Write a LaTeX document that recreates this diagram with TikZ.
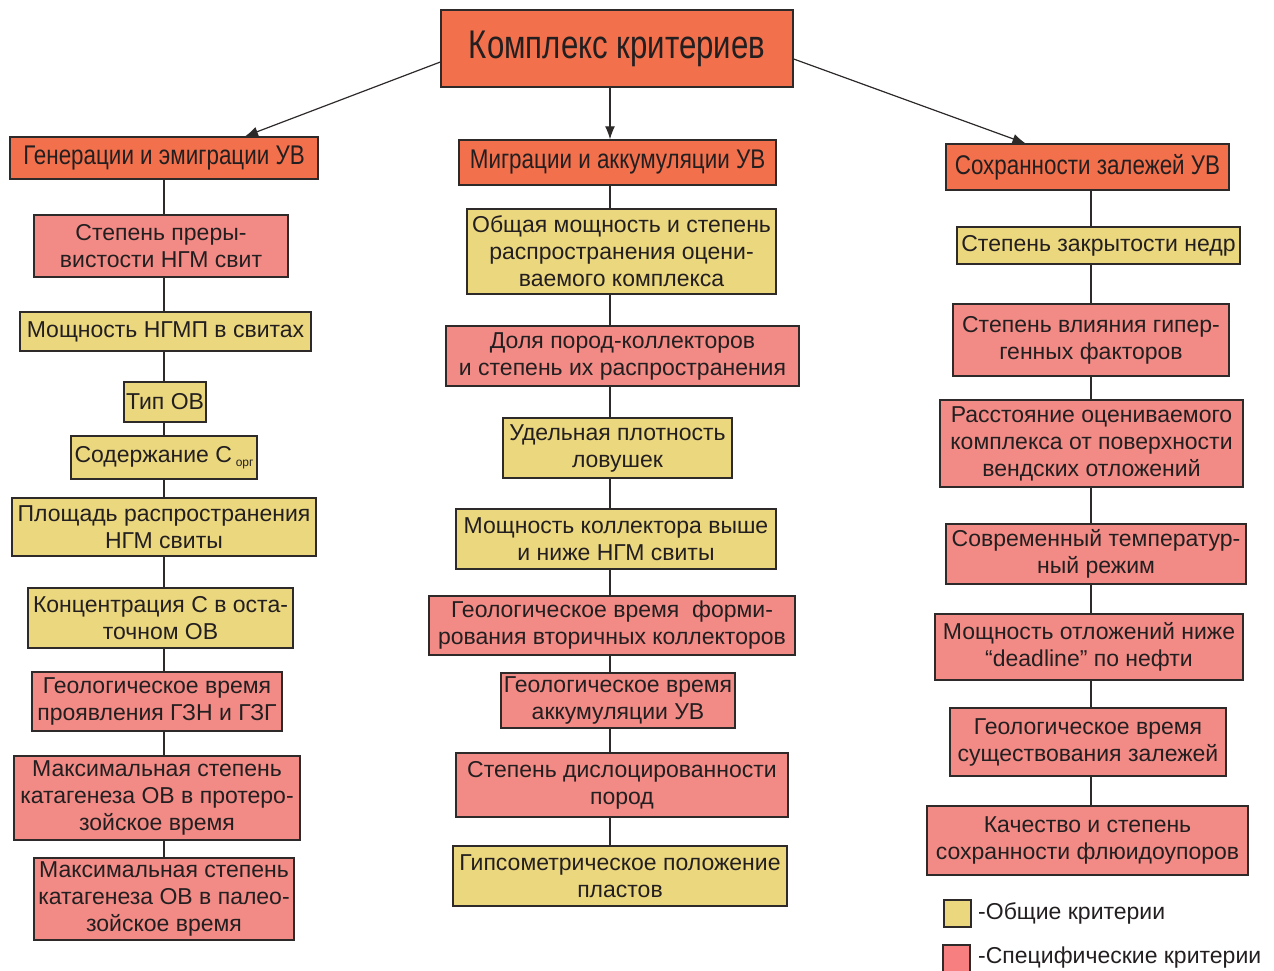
\documentclass[tikz,border=0pt]{standalone}
\usepackage{fontspec}
\setmainfont{Liberation Sans}
\newfontfamily\condfont{Liberation Sans}[FakeStretch=0.78]
\newfontfamily\hdrfont{Liberation Sans}[FakeStretch=0.83]
\usetikzlibrary{arrows.meta}
\definecolor{hdr}{HTML}{F2704C}
\definecolor{yel}{HTML}{EBD77E}
\definecolor{pnk}{HTML}{F28B86}
\definecolor{lpnk}{HTML}{F77F7F}
\definecolor{edge}{HTML}{2E2A2A}
\definecolor{txt}{HTML}{231F20}
\newcommand\bx[7]{\node[#1,minimum width=#5pt-#3pt,minimum height=#6pt-#4pt] (#2) at ({(#3+#5)/2},{(#4+#6)/2}) {#7};}
\begin{document}
\begin{tikzpicture}[x=1pt,y=-1pt,
  box/.style={draw=edge,line width=1.3pt,inner sep=0pt,align=center,text=txt,font=\fontsize{23}{27}\selectfont},
  ybox/.style={box,fill=yel},
  pbox/.style={box,fill=pnk},
  hbox/.style={box,fill=hdr,font=\hdrfont\fontsize{27}{30}\selectfont},
  tbox/.style={box,fill=hdr,font=\condfont\fontsize{40}{44}\selectfont},
  conn/.style={draw=edge,line width=1.2pt},
  arr/.style={conn,-{Latex[length=13pt,width=10pt]}}]
\useasboundingbox (0,0) rectangle (1274,971);
\coordinate (colL) at (164,0);
\coordinate (colM) at (610,0);
\coordinate (colR) at (1091,0);
% top
\bx{tbox}{top}{441}{10}{793}{87}{Комплекс критериев}
\bx{hbox}{gen}{10}{137}{318}{179}{Генерации и эмиграции УВ}
\bx{hbox}{mig}{459}{140}{776}{185}{Миграции и аккумуляции УВ}
\bx{hbox}{soh}{946}{144}{1229}{190}{Сохранности залежей УВ}
% left column
\bx{pbox}{l1}{34}{215}{288}{277}{Степень преры-\\вистости НГМ свит}
\bx{ybox}{l2}{20}{312}{311}{351}{Мощность НГМП в свитах}
\bx{ybox}{l3}{124}{382}{206}{422}{Тип ОВ}
\bx{ybox}{l4}{71}{436}{257}{479}{Содержание C\,\raisebox{-0.35ex}{\fontsize{12}{12}\selectfont орг}}
\bx{ybox}{l5}{12}{498}{316}{556}{Площадь распространения\\НГМ свиты}
\bx{ybox}{l6}{28}{588}{293}{648}{Концентрация С в оста-\\точном ОВ}
\bx{pbox}{l7}{32}{672}{282}{731}{Геологическое время\\проявления ГЗН и ГЗГ}
\bx{pbox}{l8}{14}{756}{300}{840}{\raisebox{-4pt}{\parbox{280pt}{\centering Максимальная степень\\катагенеза ОВ в протеро-\\зойское время}}}
\bx{pbox}{l9}{34}{858}{294}{940}{\raisebox{-3pt}{\parbox{255pt}{\centering Максимальная степень\\катагенеза ОВ в палео-\\зойское время}}}
% middle column
\bx{ybox}{m1}{467}{209}{776}{294}{Общая мощность и степень\\распространения оцени-\\ваемого комплекса}
\bx{pbox}{m2}{446}{326}{799}{386}{Доля пород-коллекторов\\и степень их распространения}
\bx{ybox}{m3}{503}{418}{732}{478}{Удельная плотность\\ловушек}
\bx{ybox}{m4}{456}{509}{776}{569}{Мощность коллектора выше\\и ниже НГМ свиты}
\bx{pbox}{m5}{429}{596}{795}{655}{Геологическое время\ \ форми-\\рования вторичных коллекторов}
\bx{pbox}{m6}{501}{673}{735}{728}{Геологическое время\\аккумуляции УВ}
\bx{pbox}{m7}{456}{753}{788}{817}{Степень дислоцированности\\пород}
\bx{ybox}{m8}{453}{846}{787}{906}{Гипсометрическое положение\\пластов}
% right column
\bx{ybox}{r1}{957}{227}{1240}{264}{Степень закрытости недр}
\bx{pbox}{r2}{953}{304}{1229}{376}{Степень влияния гипер-\\генных факторов}
\bx{pbox}{r3}{940}{400}{1243}{487}{Расстояние оцениваемого\\комплекса от поверхности\\вендских отложений}
\bx{pbox}{r4}{946}{524}{1246}{584}{Современный температур-\\ный режим}
\bx{pbox}{r5}{935}{614}{1243}{680}{Мощность отложений ниже\\“deadline” по нефти}
\bx{pbox}{r6}{950}{708}{1226}{776}{Геологическое время\\существования залежей}
\bx{pbox}{r7}{927}{806}{1248}{875}{Качество и степень\\сохранности флюидоупоров}
% arrows
\draw[arr] ([yshift=-13.5pt]top.west) -- ([xshift=81pt]gen.north);
\draw[arr] (top.south -| colM) -- (mig.north -| colM);
\draw[arr] ([yshift=-10.5pt]top.east) -- ([xshift=-62pt]soh.north);
% column connectors
\draw[conn] (gen.south -| colL) -- (l1.north -| colL);
\foreach \a/\b in {l1/l2,l2/l3,l3/l4,l4/l5,l5/l6,l6/l7,l7/l8,l8/l9}
  \draw[conn] (\a.south -| colL) -- (\b.north -| colL);
\draw[conn] (mig.south -| colM) -- (m1.north -| colM);
\foreach \a/\b in {m1/m2,m2/m3,m3/m4,m4/m5,m5/m6,m6/m7,m7/m8}
  \draw[conn] (\a.south -| colM) -- (\b.north -| colM);
\draw[conn] (soh.south -| colR) -- (r1.north -| colR);
\foreach \a/\b in {r1/r2,r2/r3,r3/r4,r4/r5,r5/r6,r6/r7}
  \draw[conn] (\a.south -| colR) -- (\b.north -| colR);
% legend
\bx{box,fill=yel}{ly}{944}{900}{971}{927}{}
\bx{box,fill=lpnk}{lp}{943}{945}{970}{972}{}
\node[anchor=west,inner sep=0pt,text=txt,font=\fontsize{23}{27}\selectfont] (lty) at (978,913.5) {-Общие критерии};
\node[anchor=west,inner sep=0pt,text=txt,font=\fontsize{23}{27}\selectfont] (ltp) at (978,958) {-Специфические критерии};
\end{tikzpicture}
\end{document}
